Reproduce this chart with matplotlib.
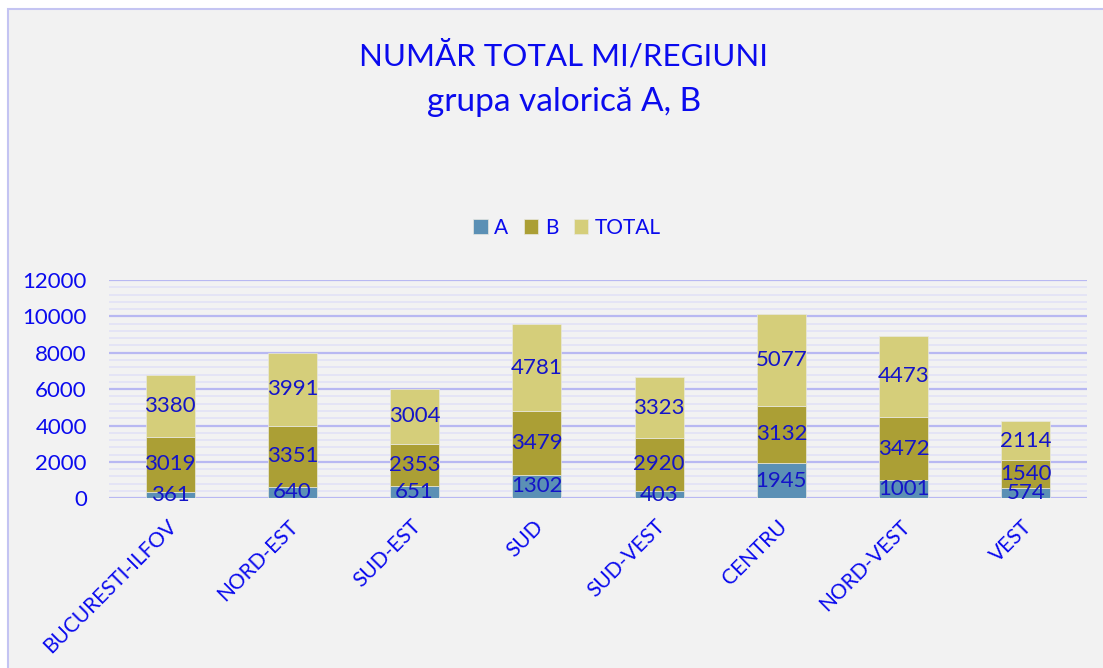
import numpy as np
import matplotlib
matplotlib.use('Agg')
import matplotlib.pyplot as plt
import matplotlib.transforms as mtransforms
from matplotlib.patches import Rectangle

# date
regiuni = ["BUCURESTI-ILFOV", "NORD-EST", "SUD-EST", "SUD", "SUD-VEST", "CENTRU", "NORD-VEST", "VEST"]
val_a = [361, 640, 651, 1302, 403, 1945, 1001, 574]
val_b = [3019, 3351, 2353, 3479, 2920, 3132, 3472, 1540]
val_total = [3380, 3991, 3004, 4781, 3323, 5077, 4473, 2114]
serii = ["A", "B", "TOTAL"]
culori = ["#5b90b5", "#ab9f35", "#d5ce7a"]

plt.rcParams['font.family'] = ['Lato', 'DejaVu Sans']
albastru = "#0a0aee"
albastru_txt = "#1414c8"

fig = plt.figure(figsize=(11.03, 6.68), dpi=100, facecolor="white")
# fundal gri cu chenar
fig.patches.append(Rectangle((8 / 1103, -0.1), 1.2, 1.1 - 9 / 668, transform=fig.transFigure,
                             facecolor="#f2f2f2", edgecolor="#c4c4f2", lw=1.5, zorder=-10))

ax = fig.add_axes([109 / 1103, 169.7 / 668, 978 / 1103, 218.3 / 668])
ax.set_facecolor("none")

x = np.arange(len(regiuni))
w = 0.4
jos = np.zeros(len(regiuni))
for nume, vals, c in zip(serii, [val_a, val_b, val_total], culori):
    vals = np.array(vals, dtype=float)
    ax.bar(x, vals, w, bottom=jos, color=c, label=nume, zorder=3,
           edgecolor="#e8e8e0", linewidth=0.5)
    for xi, b0, v in zip(x, jos, vals):
        ax.text(xi, b0 + v / 2, f"{int(v)}", ha="center", va="center",
                fontsize=16, color=albastru_txt, zorder=4)
    jos = jos + vals

ax.set_xlim(-0.5, len(regiuni) - 0.5)
ax.set_ylim(0, 12000)
ax.set_yticks(np.arange(0, 12001, 2000))
ax.set_yticks(np.arange(0, 12001, 400), minor=True)
ax.grid(axis="y", which="major", color="#b8b8f2", lw=1.6, zorder=1)
ax.grid(axis="y", which="minor", color="#e2e2f6", lw=1.2, zorder=1)
for s in ax.spines.values():
    s.set_visible(False)
ax.tick_params(axis="y", which="both", length=0, pad=16, labelsize=16, labelcolor=albastru)
ax.tick_params(axis="x", length=0, pad=13, labelsize=15, labelcolor=albastru)
ax.set_xticks(x)
ax.set_xticklabels(regiuni, rotation=45, ha="right", rotation_mode="anchor")
deplasare = mtransforms.ScaledTranslation(-4 / 100, 0, fig.dpi_scale_trans)
for lbl in ax.get_xticklabels():
    lbl.set_transform(lbl.get_transform() + deplasare)

fig.text(0.511, 0.917, "NUMĂR TOTAL MI/REGIUNI", ha="center", va="center", fontsize=22.5, color=albastru)
fig.text(0.511, 0.848, "grupa valorică A, B", ha="center", va="center", fontsize=24, color=albastru)

fig.legend(loc="center", bbox_to_anchor=(0.514, 0.659), ncol=3, frameon=False, fontsize=15,
           labelcolor=albastru, handlelength=0.7, handleheight=0.7, handletextpad=0.3, columnspacing=0.75)

fig.savefig("out.png", dpi=100, facecolor=fig.get_facecolor())
